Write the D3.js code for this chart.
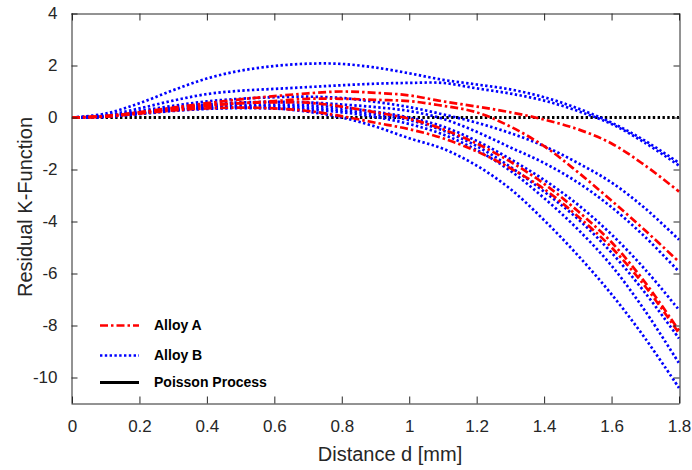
<!DOCTYPE html>
<html><head><meta charset="utf-8">
<script src="https://cdn.jsdelivr.net/npm/d3@7"></script>
<style>
html,body{margin:0;padding:0;background:#fff;}
svg{display:block;font-family:"Liberation Sans",Arial,Helvetica,sans-serif;}
</style></head>
<body>
<svg id="chart" width="692" height="470"></svg>
<script>
// ---- data ----
const distance = [0,0.1,0.2,0.3,0.4,0.5,0.6,0.7,0.8,0.9,1.0,1.1,1.2,1.3,1.4,1.5,1.6,1.7,1.8];

const alloyA1 = [0,0.05,0.2,0.38,0.55,0.7,0.82,0.93,1.0,0.95,0.85,0.62,0.42,0.2,-0.08,-0.45,-1.0,-1.85,-2.85];
const alloyA2 = [0,0.05,0.18,0.32,0.45,0.55,0.63,0.72,0.72,0.68,0.63,0.45,0.2,-0.35,-1.1,-2.1,-3.2,-4.35,-5.55];
const alloyA3 = [0,0.05,0.2,0.35,0.48,0.55,0.58,0.57,0.42,0.2,-0.05,-0.45,-1.0,-1.7,-2.55,-3.6,-4.8,-6.35,-8.2];
const alloyA4 = [0,0.03,0.15,0.27,0.35,0.38,0.35,0.25,0.05,-0.2,-0.45,-0.8,-1.3,-1.95,-2.75,-3.8,-5.0,-6.5,-8.3];

const alloyB1 = [0,0.15,0.55,1.05,1.5,1.8,1.98,2.07,2.06,1.92,1.7,1.45,1.27,1.08,0.78,0.35,-0.2,-0.9,-1.75];
const alloyB2 = [0,0.08,0.35,0.65,0.9,1.03,1.1,1.17,1.24,1.3,1.33,1.33,1.12,0.92,0.65,0.25,-0.25,-0.98,-1.85];
const alloyB3 = [0,0.06,0.25,0.45,0.62,0.72,0.78,0.8,0.75,0.6,0.4,0.12,-0.2,-0.6,-1.1,-1.75,-2.5,-3.5,-4.7];
const alloyB4 = [0,0.05,0.2,0.38,0.5,0.58,0.6,0.58,0.5,0.4,0.25,-0.05,-0.55,-1.15,-1.75,-2.5,-3.45,-4.6,-5.93];
const alloyB5 = [0,0.04,0.18,0.32,0.42,0.48,0.5,0.47,0.38,0.22,0.0,-0.35,-0.9,-1.6,-2.4,-3.35,-4.5,-5.85,-7.4];
const alloyB6 = [0,0.03,0.15,0.28,0.38,0.42,0.42,0.38,0.28,0.12,-0.1,-0.5,-1.1,-1.9,-2.85,-3.9,-5.2,-6.75,-8.5];
const alloyB7 = [0,0.03,0.13,0.25,0.33,0.36,0.35,0.3,0.2,0.02,-0.25,-0.65,-1.25,-2.05,-3.1,-4.3,-5.7,-7.45,-9.45];
const alloyB8 = [0,0.03,0.15,0.28,0.35,0.38,0.35,0.22,0.0,-0.35,-0.8,-1.2,-1.85,-2.75,-3.95,-5.3,-6.8,-8.5,-10.4];

const poisson = [0,0,0,0,0,0,0,0,0,0,0,0,0,0,0,0,0,0,0];

const xTicks = [0,0.2,0.4,0.6,0.8,1,1.2,1.4,1.6,1.8];
const yTicks = [4,2,0,-2,-4,-6,-8,-10];
const legendLabels = ["Alloy A","Alloy B","Poisson Process"];

// ---- layout ----
const svg = d3.select("#chart");
const x = d3.scaleLinear().domain([0,1.8]).range([72,679]);
const y = d3.scaleLinear().domain([-11,4]).range([403.5,13.5]);
const axisColor = "#262626";

const line = d3.line()
  .x((d,i)=>x(distance[i]))
  .y(d=>y(d))
  .curve(d3.curveCatmullRom.alpha(0.5));

const plot = svg.append("g");
const styleA = {stroke:"#ff0000", width:2.7, dash:"8,3,2.5,3"};
const styleB = {stroke:"#0000ff", width:2.7, dash:"2.4,2.4"};
const styleP = {stroke:"#000000", width:2.8, dash:"2.4,2.4"};

function draw(vals, st){
  plot.append("path").attr("d", line(vals))
    .attr("fill","none").attr("stroke",st.stroke)
    .attr("stroke-width",st.width).attr("stroke-dasharray",st.dash);
}
draw(poisson, styleP);
[alloyB1,alloyB2,alloyB3,alloyB4,alloyB5,alloyB6,alloyB7,alloyB8].forEach(v=>draw(v,styleB));
[alloyA1,alloyA2,alloyA3,alloyA4].forEach(v=>draw(v,styleA));

// ---- axes ----
const fmt = d=>String(d);
const ax = svg.append("g");
const gB = ax.append("g").attr("transform","translate(0,403.5)")
  .call(d3.axisBottom(x).tickValues(xTicks).tickFormat(fmt).tickSizeInner(-7).tickSizeOuter(0).tickPadding(16));
const gT = ax.append("g").attr("transform","translate(0,13.5)")
  .call(d3.axisTop(x).tickValues(xTicks).tickFormat("").tickSizeInner(-7).tickSizeOuter(0));
const gL = ax.append("g").attr("transform","translate(71.5,0)")
  .call(d3.axisLeft(y).tickValues(yTicks).tickFormat(fmt).tickSizeInner(-6).tickSizeOuter(0).tickPadding(14));
const gR = ax.append("g").attr("transform","translate(679.5,0)")
  .call(d3.axisRight(y).tickValues(yTicks).tickFormat("").tickSizeInner(-6).tickSizeOuter(0));

[gB,gT,gL,gR].forEach(g=>{
  g.select(".domain").attr("stroke",axisColor).attr("stroke-width",1);
  g.selectAll(".tick line").attr("stroke",axisColor).attr("stroke-width",1);
  g.selectAll("text").attr("fill",axisColor).attr("font-size",17)
   .attr("font-family","'Liberation Sans',Arial,Helvetica,sans-serif");
});
gB.select(".domain").attr("d","M71.5,0.5H679.5");
gT.select(".domain").attr("d","M71.5,0.5H679.5");
gL.select(".domain").attr("d","M0.5,13.5V403.5");
gR.select(".domain").attr("d","M0.5,13.5V403.5");

// axis titles
svg.append("text").attr("x",390).attr("y",461).attr("text-anchor","middle")
  .attr("font-size",20).attr("fill",axisColor).text("Distance d [mm]");
svg.append("text").attr("transform","translate(32,207) rotate(-90)").attr("text-anchor","middle")
  .attr("font-size",20).attr("fill",axisColor).text("Residual K-Function");

// ---- legend ----
const legStyles = [styleA, styleB, {stroke:"#000000", width:3, dash:null}];
const legY = [325.5, 355.5, 382.5];
const leg = svg.append("g");
legendLabels.forEach((lab,i)=>{
  const st = legStyles[i];
  const l = leg.append("line").attr("x1",100).attr("x2",139).attr("y1",legY[i]).attr("y2",legY[i])
    .attr("stroke",st.stroke).attr("stroke-width",st.width);
  if(st.dash) l.attr("stroke-dasharray",st.dash);
  leg.append("text").attr("x",154).attr("y",legY[i]).attr("dy","0.35em")
    .attr("font-size",14).attr("font-weight","bold").attr("fill","#000").text(lab);
});
</script>
</body></html>
